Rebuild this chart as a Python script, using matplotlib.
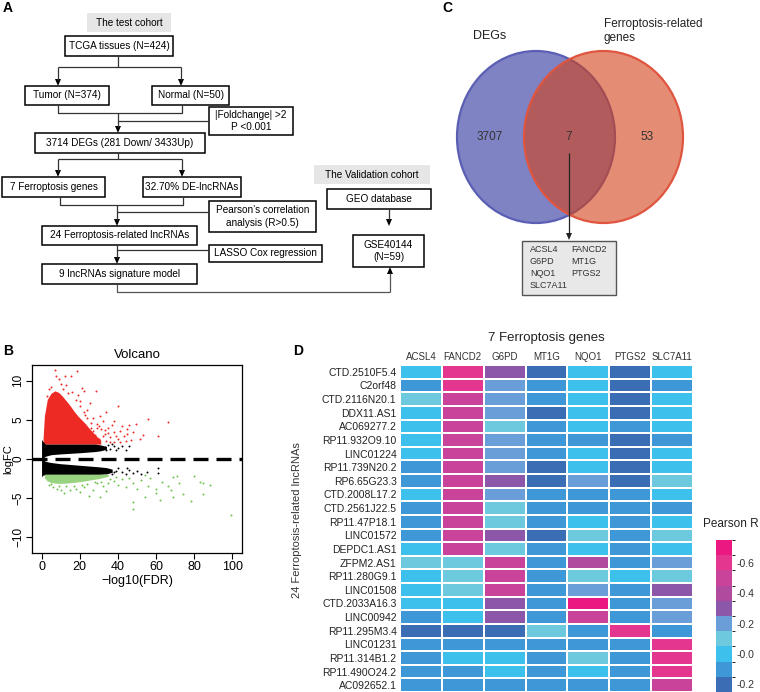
import matplotlib
matplotlib.use("Agg")
import matplotlib.pyplot as plt
import numpy as np
from matplotlib.patches import Rectangle, Ellipse, Polygon
from matplotlib.colors import ListedColormap, BoundaryNorm
from matplotlib.cm import ScalarMappable

plt.rcParams['font.family'] = ['Liberation Sans', 'DejaVu Sans']

# ---- panel B: volcano (dense cores as envelopes, sparse points listed) ----
red_env_x = [0.8, 1.5, 3, 5, 7, 9, 11, 13, 15, 17, 19, 21, 23, 25, 28, 31]
red_env_top = [2.6, 5.5, 7.6, 8.4, 8.7, 8.5, 8.0, 7.4, 6.8, 6.1, 5.5, 5.0, 4.5, 3.9, 3.1, 2.4]
red_env_low = 1.9

blk_up_x = [0.0, 0.5, 2, 5, 10, 20, 28, 31, 34]
blk_up_top = [2.5, 2.3, 1.9, 1.9, 1.9, 1.9, 1.9, 1.8, 1.6]
blk_up_low = [-0.2, 0.05, 0.35, 0.55, 0.65, 0.8, 0.95, 1.05, 1.25]
blk_lo_x = [0.0, 0.5, 2, 5, 10, 20, 30, 34, 37]
blk_lo_top = [0.2, -0.05, -0.3, -0.45, -0.6, -0.8, -1.0, -1.1, -1.3]
blk_lo_low = [-2.3, -2.1, -1.95, -1.95, -1.95, -1.95, -1.95, -1.9, -1.7]

grn_env_x = [1.5, 3, 5, 8, 12, 16, 20, 25, 30, 35]
grn_env_low = [-2.4, -2.8, -3.0, -3.1, -3.1, -3.0, -2.9, -2.7, -2.5, -2.2]
grn_env_top = -1.95

red_fdr = [7, 7.6, 12.5, 15.5, 18.6, 21, 22, 28.6, 25.5, 39.8, 34, 30.7, 37.7, 35, 41, 44.6,
           46, 49.5, 51.6, 53, 56, 61, 66, 27, 29, 31, 33, 36, 38, 40, 42, 43, 45, 47, 24, 26,
           28, 30, 32, 20, 23, 19, 16, 13, 10, 5, 9, 25, 34, 38, 44, 48,
           26, 27, 29, 30, 32, 33, 35, 36, 37, 39, 41, 22, 24, 20, 18, 14, 11, 4, 3]
red_fc = [11.3, 10.6, 10.6, 10.6, 11.2, 9.1, 8.7, 8.7, 7.2, 6.8, 6.0, 5.5, 4.9, 4.0, 3.6, 3.8,
          4.3, 4.5, 2.6, 3.1, 5.1, 3.0, 4.7, 5.2, 4.5, 3.8, 3.2, 2.8, 3.4, 2.5, 4.2, 2.9, 3.2, 2.4,
          6.3, 4.0, 3.1, 2.6, 4.8, 7.4, 5.6, 8.2, 8.6, 9.4, 9.6, 9.2, 10.2, 2.4, 2.3, 2.2, 2.3, 3.4,
          4.6, 3.6, 3.9, 4.2, 3.0, 3.7, 3.3, 2.2, 4.4, 2.9, 2.2, 6.0, 5.2, 6.8, 7.5, 8.4, 9.0, 8.9, 8.0]
blk_fdr = [33, 35, 36, 38, 40, 42, 44, 46, 34, 37, 39,
           36, 38, 40, 42, 44, 46, 48, 50, 52, 61, 61, 37, 39, 45, 55]
blk_fc = [1.5, 1.8, 1.3, 1.6, 1.4, 1.7, 1.2, 1.7, 1.1, 1.9, 1.1,
          -1.4, -1.7, -1.2, -1.6, -1.9, -1.4, -1.8, -1.5, -1.9, -1.2, -1.8, -1.9, -1.5, -1.1, -1.7]
grn_fdr = [48, 47.7, 69, 71, 80, 84.5, 88, 99, 78.5, 74, 68, 69, 84.5, 60.2, 54, 60, 56, 54,
           30.7, 25, 50, 12, 15, 18, 22, 27, 32, 35, 38, 40, 42, 44, 46, 48, 52, 57, 63, 66,
           8, 6, 4, 10, 20, 28, 34, 62, 72, 83, 5, 9, 13, 17, 21, 24, 29, 31, 36, 39]
grn_fc = [-5.5, -6.4, -2.3, -2.2, -2.2, -3.0, -3.3, -7.1, -5.3, -4.5, -4.0, -4.8, -4.5, -4.3,
          -4.9, -3.8, -3.4, -2.1, -4.8, -4.7, -3.8, -4.3, -4.0, -3.8, -3.6, -3.9, -3.4, -3.0,
          -2.8, -3.3, -2.6, -3.6, -2.4, -3.0, -2.7, -2.4, -2.9, -3.5, -3.8, -3.6, -3.3, -3.9,
          -4.2, -2.9, -4.1, -5.2, -3.0, -2.9, -3.2, -3.4, -3.5, -3.4, -3.3, -3.2, -3.1, -2.9,
          -2.6, -2.3]

# ---- panel C: venn ----
venn_counts = [3707, 7, 53]
venn_sets = ['DEGs', 'Ferroptosis-related\ngenes']
shared_genes = ['ACSL4', 'FANCD2', 'G6PD', 'MT1G', 'NQO1', 'PTGS2', 'SLC7A11']

# ---- panel D: heatmap ----
genes = ['ACSL4', 'FANCD2', 'G6PD', 'MT1G', 'NQO1', 'PTGS2', 'SLC7A11']
lncrnas = ['CTD.2510F5.4', 'C2orf48', 'CTD.2116N20.1', 'DDX11.AS1', 'AC069277.2',
           'RP11.932O9.10', 'LINC01224', 'RP11.739N20.2', 'RP6.65G23.3', 'CTD.2008L17.2',
           'CTD.2561J22.5', 'RP11.47P18.1', 'LINC01572', 'DEPDC1.AS1', 'ZFPM2.AS1',
           'RP11.280G9.1', 'LINC01508', 'CTD.2033A16.3', 'LINC00942', 'RP11.295M3.4',
           'LINC01231', 'RP11.314B1.2', 'RP11.490O24.2', 'AC092652.1']
pearson_r = [
    [0.0, 0.6, 0.3, -0.2, 0.0, -0.2, 0.0],
    [-0.1, 0.6, 0.2, -0.1, 0.0, -0.2, -0.1],
    [0.1, 0.5, 0.2, -0.1, 0.0, -0.2, 0.0],
    [0.0, 0.5, 0.2, -0.2, 0.0, -0.2, 0.0],
    [0.0, 0.5, 0.1, -0.1, 0.0, -0.1, 0.0],
    [0.0, 0.5, 0.2, -0.1, -0.1, -0.2, -0.1],
    [0.0, 0.5, 0.2, -0.1, 0.0, -0.2, 0.0],
    [-0.1, 0.5, 0.2, -0.2, 0.0, -0.2, 0.0],
    [-0.1, 0.5, 0.3, -0.2, 0.2, -0.2, 0.1],
    [0.0, 0.5, 0.2, -0.1, -0.1, -0.1, 0.0],
    [-0.1, 0.5, 0.1, -0.1, -0.1, -0.1, -0.1],
    [-0.1, 0.5, 0.1, -0.1, 0.0, -0.1, 0.0],
    [-0.1, 0.5, 0.3, -0.2, 0.1, -0.1, 0.1],
    [0.0, 0.5, 0.1, -0.1, 0.0, -0.1, 0.0],
    [0.1, 0.1, 0.5, -0.1, 0.4, -0.1, 0.2],
    [0.0, 0.1, 0.5, -0.1, 0.1, 0.0, 0.1],
    [0.0, 0.1, 0.5, -0.1, 0.2, -0.1, 0.3],
    [0.0, 0.0, 0.3, -0.1, 0.7, -0.1, 0.2],
    [-0.1, 0.0, 0.3, -0.1, 0.5, -0.1, 0.2],
    [-0.2, -0.2, -0.2, 0.1, -0.1, 0.6, -0.1],
    [-0.1, -0.1, -0.1, -0.1, -0.1, -0.1, 0.6],
    [-0.1, 0.0, 0.0, -0.1, 0.1, -0.1, 0.6],
    [-0.1, -0.1, 0.0, -0.1, 0.0, -0.1, 0.6],
    [-0.1, -0.1, -0.1, -0.1, -0.1, -0.1, 0.5],
]
cbar_ticks = [0.6, 0.4, 0.2, 0.0, -0.2]
cbar_labels = ['-0.6', '-0.4', '-0.2', '-0.0', '-0.2']
bin_colors = ['#3b6db5', '#3e97d6', '#3ec0ec', '#6dcade', '#6a9ed8',
              '#8c57a8', '#b04a9f', '#c9439a', '#e4358f', '#ec1882']

W, H = 760, 692
fig = plt.figure(figsize=(W / 100, H / 100), dpi=100)

# overlay axes in pixel units for the diagrams
ax0 = fig.add_axes([0, 0, 1, 1])
ax0.set_xlim(0, W)
ax0.set_ylim(H, 0)
ax0.axis('off')

LC = '#333333'
FS = 7.2


def box(x0, y0, x1, y1, txt, fc='white', ec='black', fs=FS, lw=1.1):
    ax0.add_patch(Rectangle((x0, y0), x1 - x0, y1 - y0, fc=fc, ec=ec, lw=lw))
    ax0.text((x0 + x1) / 2, (y0 + y1) / 2, txt, ha='center', va='center',
             fontsize=fs, linespacing=1.35)


def path(xs, ys, color=LC, lw=0.9):
    ax0.plot(xs, ys, color=color, lw=lw, solid_capstyle='butt')


def arrow(x, y0, y1, color=LC):
    # line from y0 to y1 with a triangular head at y1
    d = 1 if y1 > y0 else -1
    path([x, x], [y0, y1 - d * 6], color=color)
    ax0.add_patch(Polygon([(x - 3, y1 - d * 7), (x + 3, y1 - d * 7), (x, y1)],
                          closed=True, fc='black', ec='none'))


# ---------- panel A ----------
ax0.text(3, 8, 'A', fontsize=10, fontweight='bold', va='center')
box(87, 13, 171, 32, 'The test cohort', fc='#e6e6e6', ec='none')
box(65, 36, 173, 56, 'TCGA tissues (N=424)')
path([118, 118], [56, 67])
path([58, 181], [67, 67])
arrow(58, 67, 86)
arrow(181, 67, 86)
box(25, 86, 109, 105, 'Tumor (N=374)')
box(152, 86, 229, 105, 'Normal (N=50)')
path([58, 58, 182, 182], [105, 113, 113, 105])
arrow(118, 113, 133)
path([118, 209], [121, 121])
box(209, 107, 293, 135, '|Foldchange| >2\nP <0.001')
box(35, 133, 205, 153, '3714 DEGs (281 Down/ 3433Up)')
path([118, 118], [153, 159])
path([58, 182], [159, 159])
arrow(58, 159, 177)
arrow(182, 159, 177)
box(2, 177, 105, 197, '7 Ferroptosis genes')
box(143, 177, 241, 197, '32.70% DE-lncRNAs')
path([60, 60, 183, 183], [197, 205, 205, 197])
arrow(117, 205, 226)
path([117, 209], [212, 212])
box(209, 201, 316, 232, 'Pearson’s correlation\nanalysis (R>0.5)')
box(42, 226, 197, 245, '24 Ferroptosis-related lncRNAs')
arrow(117, 245, 264)
path([117, 209], [250, 250])
box(209, 245, 322, 262, 'LASSO Cox regression')
box(42, 264, 197, 284, '9 lncRNAs signature model')
path([117, 117, 390], [284, 292, 292], color='#555555')
arrow(390, 292, 267, color='#555555')
box(314, 165, 430, 184, 'The Validation cohort', fc='#e6e6e6', ec='none')
box(327, 189, 431, 209, 'GEO database')
arrow(389, 209, 226)
box(353, 235, 424, 267, 'GSE40144\n(N=59)')

# ---------- panel C ----------
ax0.text(442, 8, 'C', fontsize=10, fontweight='bold', va='center')
ax0.add_patch(Ellipse((536, 137), 158, 172, fc='#7f82c3', ec='#5b5fb3', lw=1.6))
ax0.add_patch(Ellipse((603.5, 137), 159, 172, fc=(0.83, 0.26, 0.09, 0.6), ec='none'))
ax0.add_patch(Ellipse((603.5, 137), 159, 172, fc='none', ec='#e0553f', lw=1.6))
ax0.text(473, 36, venn_sets[0], fontsize=9, ha='left', va='center', color='#222222')
ax0.text(604, 31, venn_sets[1], fontsize=8.5, ha='left', va='center', color='#222222',
         linespacing=1.25)
for xc, n in zip([490, 569, 647], venn_counts):
    ax0.text(xc, 137, str(n), fontsize=8.5, ha='center', va='center', color='#333333')
path([569, 569], [153, 234], color='#222222', lw=0.9)
ax0.add_patch(Polygon([(566, 233), (572, 233), (569, 240)], closed=True, fc='#222222', ec='none'))
ax0.add_patch(Rectangle((522, 241), 94, 54, fc='#e8e8e8', ec='#555555', lw=1))
for i, g in enumerate(shared_genes):
    xg = 530 if i % 2 == 0 else 571
    yg = 250 + 12 * (i // 2)
    ax0.text(xg, yg, g, fontsize=6.5, ha='left', va='center', color='#333333')

# ---------- panel B ----------
ax0.text(3, 351, 'B', fontsize=10, fontweight='bold', va='center')
axb = fig.add_axes([32 / W, 1 - 553 / H, 210 / W, 188 / H])
axb.fill_between(red_env_x, red_env_low, red_env_top, color='#ee2a24', lw=0, zorder=2)
axb.fill_between(blk_up_x, blk_up_low, blk_up_top, color='black', lw=0, zorder=2)
axb.fill_between(blk_lo_x, blk_lo_low, blk_lo_top, color='black', lw=0, zorder=2)
axb.fill_between(grn_env_x, grn_env_low, grn_env_top, color='#6cc24a', lw=0, alpha=0.7, zorder=2)
axb.scatter(red_fdr, red_fc, s=2, color='#ee2a24', lw=0, zorder=3)
axb.scatter(blk_fdr, blk_fc, s=2, color='black', lw=0, zorder=3)
axb.scatter(grn_fdr, grn_fc, s=2, color='#6cc24a', lw=0, zorder=3)
axb.axhline(0, color='black', lw=2.4, dashes=(4.5, 2.4), zorder=4)
axb.set_xlim(-5, 105)
axb.set_ylim(-12, 12)
axb.set_xticks([0, 20, 40, 60, 80, 100])
axb.set_yticks([-10, -5, 0, 5, 10])
axb.set_yticklabels(['−10', '−5', '0', '5', '10'])
axb.tick_params(labelsize=9, length=4, width=0.8, pad=2)
axb.tick_params(axis='y', labelrotation=90, labelsize=8.5, pad=1.5)
for lab in axb.get_yticklabels():
    lab.set_va('center')
axb.set_title('Volcano', fontsize=9.5, pad=5)
axb.set_xlabel('−log10(FDR)', fontsize=9, labelpad=1)
axb.set_ylabel('logFC', fontsize=8)
axb.yaxis.set_label_coords(-0.09, 0.5)
for sp in axb.spines.values():
    sp.set_linewidth(0.9)

# ---------- panel D ----------
ax0.text(293, 351, 'D', fontsize=10, fontweight='bold', va='center')
cmap = ListedColormap(bin_colors)
bounds = np.linspace(-0.25, 0.75, 11)
norm = BoundaryNorm(bounds, cmap.N)
axd = fig.add_axes([400 / W, 0, 293 / W, 327 / H])
vals = np.array(pearson_r)
axd.pcolormesh(vals, cmap=cmap, norm=norm, edgecolors='white', linewidth=1.1)
axd.set_xlim(0, len(genes))
axd.set_ylim(len(lncrnas), 0)
axd.set_xticks(np.arange(len(genes)) + 0.5)
axd.set_xticklabels(genes, fontsize=7, color='#333333')
axd.set_yticks(np.arange(len(lncrnas)) + 0.5)
axd.set_yticklabels(lncrnas, fontsize=7.5, color='#222222')
axd.xaxis.tick_top()
axd.tick_params(length=0, pad=2.5)
for sp in axd.spines.values():
    sp.set_visible(False)
ax0.text(546, 338, '7 Ferroptosis genes', fontsize=9.5, ha='center', va='center', color='#222222')
ax0.text(297, 520, '24 Ferroptosis-related lncRNAs', fontsize=8, rotation=90,
         ha='center', va='center', color='#333333')

cax = fig.add_axes([716 / W, 0, 16 / W, 152 / H])
cb = fig.colorbar(ScalarMappable(norm=norm, cmap=cmap), cax=cax, boundaries=bounds)
cb.outline.set_visible(False)
cb.set_ticks(cbar_ticks)
cb.set_ticklabels(cbar_labels)
cax.tick_params(length=0, labelsize=7.5, pad=3, colors='#333333')
ax0.text(703, 524, 'Pearson R', fontsize=8.5, ha='left', va='center', color='#222222')

fig.savefig('out.png', dpi=100)
